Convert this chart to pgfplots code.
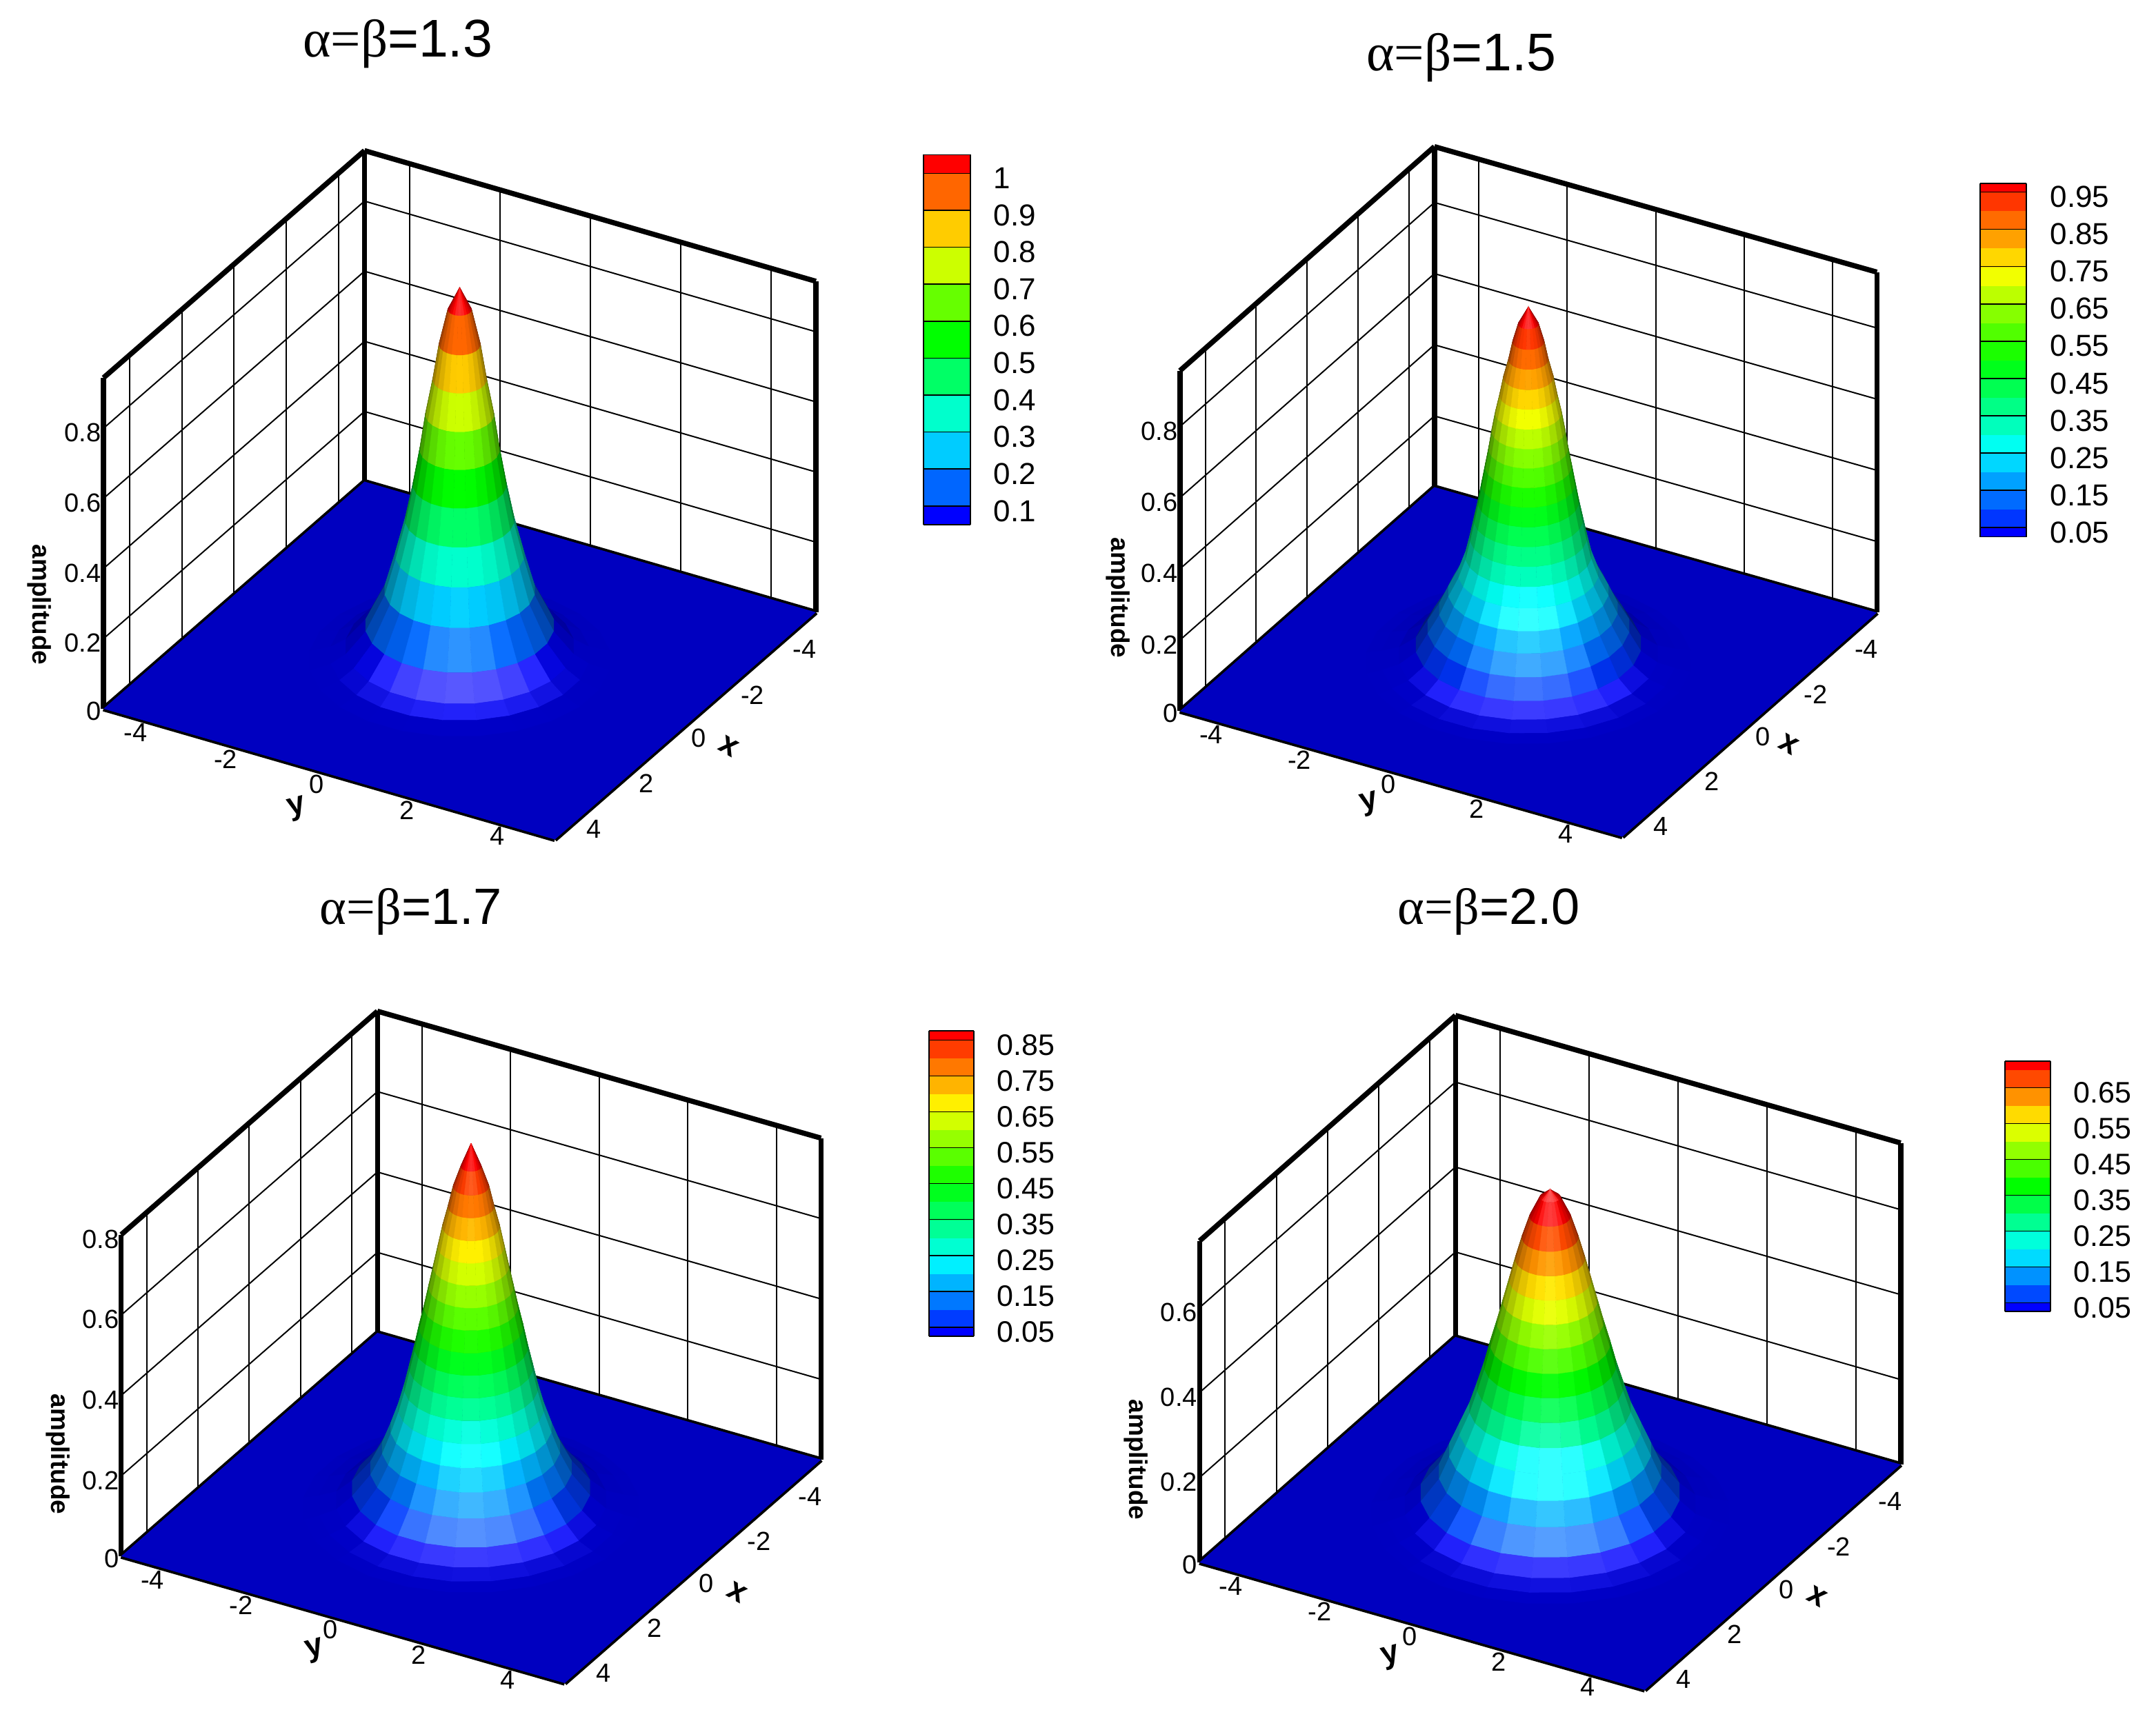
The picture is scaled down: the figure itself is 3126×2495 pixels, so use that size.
\documentclass[border=0pt]{standalone}
\usepackage{fontspec}
\usepackage{pgfplots}
\usepackage{pgfplotstable}
\pgfplotsset{compat=1.18}
\setmainfont{Liberation Sans}
\newfontfamily\symf{Liberation Serif}

% radial profiles: r, amplitude z, colour band j of the
% face outside this ring, slope m of that face, s = edge of the angular sector
\pgfplotstableread[row sep=\\]{
r z j m s\\
0 1.064 10 2.2 0\\0 1.064 10 2.2 1\\
0.23 1.0 9 4.7 0\\0.23 1.0 9 4.7 1\\
0.40 0.9 8 6.7 0\\0.40 0.9 8 6.7 1\\
0.52 0.8 7 5.7 0\\0.52 0.8 7 5.7 1\\
0.66 0.7 6 7.3 0\\0.66 0.7 6 7.3 1\\
0.77 0.6 5 6.2 0\\0.77 0.6 5 6.2 1\\
0.90 0.5 4 5.3 0\\0.90 0.5 4 5.3 1\\
1.05 0.4 3 4.2 0\\1.05 0.4 3 4.2 1\\
1.24 0.3 2 3.8 0\\1.24 0.3 2 3.8 1\\
1.45 0.2 1 2.2 0\\1.45 0.2 1 2.2 1\\
1.82 0.1 0 0.7 0\\1.82 0.1 0 0.7 1\\
2.2 0.04 0 0.2 0\\2.2 0.04 0 0.2 1\\
2.5 0.015 0 0.05 0\\2.5 0.015 0 0.05 1\\
2.9 0 0 0 0\\2.9 0 0 0 1\\
}\profA
\pgfplotstableread[row sep=\\]{
r z j m s\\
0 0.998 19 1.9 0\\0 0.998 19 1.9 1\\
0.20 0.95 18 3.6 0\\0.20 0.95 18 3.6 1\\
0.31 0.90 17 5 0\\0.31 0.90 17 5 1\\
0.39 0.85 16 4 0\\0.39 0.85 16 4 1\\
0.49 0.80 15 5.3 0\\0.49 0.80 15 5.3 1\\
0.565 0.75 14 4.7 0\\0.565 0.75 14 4.7 1\\
0.65 0.70 13 5.7 0\\0.65 0.70 13 5.7 1\\
0.72 0.65 12 6.7 0\\0.72 0.65 12 6.7 1\\
0.78 0.60 11 5.7 0\\0.78 0.60 11 5.7 1\\
0.85 0.55 10 5.7 0\\0.85 0.55 10 5.7 1\\
0.92 0.50 9 5.7 0\\0.92 0.50 9 5.7 1\\
0.99 0.45 8 5 0\\0.99 0.45 8 5 1\\
1.07 0.40 7 5 0\\1.07 0.40 7 5 1\\
1.15 0.35 6 4.4 0\\1.15 0.35 6 4.4 1\\
1.24 0.30 5 2.9 0\\1.24 0.30 5 2.9 1\\
1.38 0.25 4 2 0\\1.38 0.25 4 2 1\\
1.58 0.20 3 2.2 0\\1.58 0.20 3 2.2 1\\
1.76 0.15 2 1.7 0\\1.76 0.15 2 1.7 1\\
1.99 0.10 1 1.7 0\\1.99 0.10 1 1.7 1\\
2.22 0.05 0 0.35 0\\2.22 0.05 0 0.35 1\\
2.55 0.02 0 0.12 0\\2.55 0.02 0 0.12 1\\
2.9 0.007 0 0.05 0\\2.9 0.007 0 0.05 1\\
3.2 0 0 0 0\\3.2 0 0 0 1\\
}\profB
\pgfplotstableread[row sep=\\]{
r z j m s\\
0 0.907 17 2.3 0\\0 0.907 17 2.3 1\\
0.20 0.85 16 2.7 0\\0.20 0.85 16 2.7 1\\
0.35 0.80 15 4 0\\0.35 0.80 15 4 1\\
0.45 0.75 14 3.6 0\\0.45 0.75 14 3.6 1\\
0.56 0.70 13 4.4 0\\0.56 0.70 13 4.4 1\\
0.65 0.65 12 4.4 0\\0.65 0.65 12 4.4 1\\
0.74 0.60 11 4.4 0\\0.74 0.60 11 4.4 1\\
0.83 0.55 10 4.4 0\\0.83 0.55 10 4.4 1\\
0.92 0.50 9 4 0\\0.92 0.50 9 4 1\\
1.02 0.45 8 4.4 0\\1.02 0.45 8 4.4 1\\
1.11 0.40 7 4 0\\1.11 0.40 7 4 1\\
1.21 0.35 6 4 0\\1.21 0.35 6 4 1\\
1.31 0.30 5 3.3 0\\1.31 0.30 5 3.3 1\\
1.43 0.25 4 2.7 0\\1.43 0.25 4 2.7 1\\
1.58 0.20 3 2.4 0\\1.58 0.20 3 2.4 1\\
1.75 0.15 2 1.7 0\\1.75 0.15 2 1.7 1\\
1.98 0.10 1 1.1 0\\1.98 0.10 1 1.1 1\\
2.34 0.05 0 0.35 0\\2.34 0.05 0 0.35 1\\
2.65 0.02 0 0.12 0\\2.65 0.02 0 0.12 1\\
3.0 0.007 0 0.05 0\\3.0 0.007 0 0.05 1\\
3.3 0 0 0 0\\3.3 0 0 0 1\\
}\profC
\pgfplotstableread[row sep=\\]{
r z j m s\\
0 0.763 14 0.7 0\\0 0.763 14 0.7 1\\
0.20 0.745 14 1.8 0\\0.20 0.745 14 1.8 1\\
0.40 0.70 13 2.7 0\\0.40 0.70 13 2.7 1\\
0.55 0.65 12 3.1 0\\0.55 0.65 12 3.1 1\\
0.68 0.60 11 3.3 0\\0.68 0.60 11 3.3 1\\
0.80 0.55 10 3.3 0\\0.80 0.55 10 3.3 1\\
0.92 0.50 9 3.3 0\\0.92 0.50 9 3.3 1\\
1.04 0.45 8 3.1 0\\1.04 0.45 8 3.1 1\\
1.17 0.40 7 3.3 0\\1.17 0.40 7 3.3 1\\
1.29 0.35 6 2.9 0\\1.29 0.35 6 2.9 1\\
1.43 0.30 5 2.7 0\\1.43 0.30 5 2.7 1\\
1.58 0.25 4 2 0\\1.58 0.25 4 2 1\\
1.78 0.20 3 2 0\\1.78 0.20 3 2 1\\
1.98 0.15 2 2 0\\1.98 0.15 2 2 1\\
2.18 0.10 1 1.1 0\\2.18 0.10 1 1.1 1\\
2.54 0.05 0 0.35 0\\2.54 0.05 0 0.35 1\\
2.85 0.02 0 0.12 0\\2.85 0.02 0 0.12 1\\
3.2 0.007 0 0.05 0\\3.2 0.007 0 0.05 1\\
3.5 0 0 0 0\\3.5 0 0 0 1\\
}\profD

% colour bars: x, lower edge y of the band, band j
\pgfplotstableread[row sep=\\]{
x y j\\
0 0.05 0\\1 0.05 0\\0 0.1 1\\1 0.1 1\\0 0.2 2\\1 0.2 2\\0 0.3 3\\1 0.3 3\\
0 0.4 4\\1 0.4 4\\0 0.5 5\\1 0.5 5\\0 0.6 6\\1 0.6 6\\0 0.7 7\\1 0.7 7\\
0 0.8 8\\1 0.8 8\\0 0.9 9\\1 0.9 9\\0 1.0 10\\1 1.0 10\\0 1.05 10\\1 1.05 10\\
}\barA
\pgfplotstableread[row sep=\\]{
x y j\\
0 0.025 0\\1 0.025 0\\0 0.05 1\\1 0.05 1\\0 0.10 2\\1 0.10 2\\0 0.15 3\\1 0.15 3\\
0 0.20 4\\1 0.20 4\\0 0.25 5\\1 0.25 5\\0 0.30 6\\1 0.30 6\\0 0.35 7\\1 0.35 7\\
0 0.40 8\\1 0.40 8\\0 0.45 9\\1 0.45 9\\0 0.50 10\\1 0.50 10\\0 0.55 11\\1 0.55 11\\
0 0.60 12\\1 0.60 12\\0 0.65 13\\1 0.65 13\\0 0.70 14\\1 0.70 14\\0 0.75 15\\1 0.75 15\\
0 0.80 16\\1 0.80 16\\0 0.85 17\\1 0.85 17\\0 0.90 18\\1 0.90 18\\0 0.95 19\\1 0.95 19\\
0 0.974 19\\1 0.974 19\\
}\barB
\pgfplotstableread[row sep=\\]{
x y j\\
0 0.025 0\\1 0.025 0\\0 0.05 1\\1 0.05 1\\0 0.10 2\\1 0.10 2\\0 0.15 3\\1 0.15 3\\
0 0.20 4\\1 0.20 4\\0 0.25 5\\1 0.25 5\\0 0.30 6\\1 0.30 6\\0 0.35 7\\1 0.35 7\\
0 0.40 8\\1 0.40 8\\0 0.45 9\\1 0.45 9\\0 0.50 10\\1 0.50 10\\0 0.55 11\\1 0.55 11\\
0 0.60 12\\1 0.60 12\\0 0.65 13\\1 0.65 13\\0 0.70 14\\1 0.70 14\\0 0.75 15\\1 0.75 15\\
0 0.80 16\\1 0.80 16\\0 0.85 17\\1 0.85 17\\0 0.8755 17\\1 0.8755 17\\
}\barC
\pgfplotstableread[row sep=\\]{
x y j\\
0 0.025 0\\1 0.025 0\\0 0.05 1\\1 0.05 1\\0 0.10 2\\1 0.10 2\\0 0.15 3\\1 0.15 3\\
0 0.20 4\\1 0.20 4\\0 0.25 5\\1 0.25 5\\0 0.30 6\\1 0.30 6\\0 0.35 7\\1 0.35 7\\
0 0.40 8\\1 0.40 8\\0 0.45 9\\1 0.45 9\\0 0.50 10\\1 0.50 10\\0 0.55 11\\1 0.55 11\\
0 0.60 12\\1 0.60 12\\0 0.65 13\\1 0.65 13\\0 0.70 14\\1 0.70 14\\0 0.723 14\\1 0.723 14\\
}\barD

\definecolor{floorblue}{RGB}{0,0,192}

% colour helpers, one argument each because the symbolic list splits on commas
\pgfmathdeclarefunction{clampo}{1}{\pgfmathparse{min(1,max(0,#1))}}
\pgfmathdeclarefunction{pos}{1}{\pgfmathparse{max(0,#1)}}
\pgfmathdeclarefunction{tent}{1}{\pgfmathparse{min(1,min(4*(#1),4-4*(#1)))}}
\newcommand{\Dv}[1]{clampo(0.45+0.6*pos((\thisrow{m}*0.866*cos(#1-30)+0.5)/sqrt(1+\thisrow{m}*\thisrow{m})))}
\newcommand{\Sp}[1]{(0.35*pos(((\thisrow{m}*0.643*cos(#1-30)+0.766)/sqrt(1+\thisrow{m}*\thisrow{m})-0.8)/0.2))}

% one peak, sectors of 15 degrees, back to front
\newcommand{\hump}[2]{%
  \pgfplotsinvokeforeach{202.5,187.5,217.5,172.5,232.5,157.5,247.5,142.5,262.5,127.5,277.5,112.5,292.5,97.5,307.5,82.5,322.5,67.5,337.5,52.5,352.5,37.5,7.5,22.5}{%
    \addplot3[surf,shader=flat corner,z buffer=sort,mesh/cols=2,
      mesh/color input=explicit mathparse,
      point meta={symbolic={
        0+clampo(clampo(4*\thisrow{j}/#2-2)*\Dv{(##1+7.5)}+\Sp{(##1+7.5)}),
        0+clampo(tent(\thisrow{j}/#2)*\Dv{(##1+7.5)}+\Sp{(##1+7.5)}),
        0+clampo(clampo(2-4*\thisrow{j}/#2)*\Dv{(##1+7.5)}+\Sp{(##1+7.5)})}}]
      table[x expr=\thisrow{r}*cos(##1+\thisrow{s}*15),y expr=\thisrow{r}*sin(##1+\thisrow{s}*15),z=z]{#1};
  }%
}
\newcommand{\cbar}[2]{%
  \addplot3[surf,shader=flat corner,mesh/cols=2,
    mesh/color input=explicit mathparse,
    point meta={symbolic={
      0+clampo(4*\thisrow{j}/#2-2),
      0+tent(\thisrow{j}/#2),
      0+clampo(2-4*\thisrow{j}/#2)}}]
    table[x=x,y=y,z expr=0]{#1};
}

\pgfplotsset{
  peak/.style={
    clip=false,anchor=origin,
    xmin=-5,xmax=5,ymin=-5,ymax=5,zmin=0,
    xtick={-4,-2,0,2,4},ytick={-4,-2,0,2,4},
    xticklabels={-4,-2,0,2,4},yticklabels={-4,-2,0,2,4},
    grid=major,grid style={black,line width=2pt},
    axis line style={line width=7.5pt},
    tick style={draw=none},major tick length=0pt,
    tick label style={font=\fontsize{38}{43}\selectfont,text=black},
    xticklabel style={xshift=6pt},
    yticklabel style={xshift=-10pt,yshift=4pt},
  },
  cb/.style={
    scale only axis,anchor=south west,view={0}{90},axis on top,
    xmin=0,xmax=1,zmin=-1,zmax=1,xtick=\empty,ztick=\empty,
    yticklabel pos=right,
    ymajorgrids,grid style={black,line width=1.5pt},
    axis line style={line width=1.8pt},
    tick style={draw=none},major tick length=0pt,
    yticklabel style={anchor=west,inner sep=0pt,xshift=34pt,yshift=-7pt,font=\fontsize{44}{49}\selectfont},
  },
}

\begin{document}
\begin{tikzpicture}[x=1pt,y=1pt]
\path[use as bounding box] (0,0) rectangle (3126,2495);

\begin{axis}[peak,at={(666.5pt,1537pt)},x={(-37.85pt,-32.95pt)},y={(65.45pt,-18.95pt)},z={(0pt,508.5pt)},zmax=0.944,
  ztick={0,0.2,0.4,0.6,0.8},zticklabels={0,0.2,0.4,0.6,0.8}]
  \addplot3[fill=floorblue,draw=none] coordinates {(-5,-5,0) (-5,5,0) (5,5,0) (5,-5,0) (-5,-5,0)};
  \hump{\profA}{10}
\end{axis}
\begin{axis}[peak,at={(2216pt,1535pt)},x={(-36.9pt,-32.5pt)},y={(64.15pt,-18.2pt)},z={(0pt,516pt)},zmax=0.957,
  ztick={0,0.2,0.4,0.6,0.8},zticklabels={0,0.2,0.4,0.6,0.8}]
  \addplot3[fill=floorblue,draw=none] coordinates {(-5,-5,0) (-5,5,0) (5,5,0) (5,-5,0) (-5,-5,0)};
  \hump{\profB}{19}
\end{axis}
\begin{axis}[peak,at={(683pt,308pt)},x={(-37.15pt,-32.4pt)},y={(64.3pt,-18.4pt)},z={(0pt,583pt)},zmax=0.8,
  ztick={0,0.2,0.4,0.6,0.8},zticklabels={0,0.2,0.4,0.6,0.8}]
  \addplot3[fill=floorblue,draw=none] coordinates {(-5,-5,0) (-5,5,0) (5,5,0) (5,-5,0) (-5,-5,0)};
  \hump{\profC}{17}
\end{axis}
\begin{axis}[peak,at={(2247.5pt,300pt)},x={(-37.1pt,-32.7pt)},y={(64.55pt,-18.5pt)},z={(0pt,616pt)},zmax=0.757,
  ztick={0,0.2,0.4,0.6},zticklabels={0,0.2,0.4,0.6}]
  \addplot3[fill=floorblue,draw=none] coordinates {(-5,-5,0) (-5,5,0) (5,5,0) (5,-5,0) (-5,-5,0)};
  \hump{\profD}{14}
\end{axis}

\begin{axis}[cb,at={(1339.3pt,1734.3pt)},width=67.4pt,height=536.2pt,ymin=0.05,ymax=1.05,
  ytick={0.1,0.2,0.3,0.4,0.5,0.6,0.7,0.8,0.9,1},yticklabels={0.1,0.2,0.3,0.4,0.5,0.6,0.7,0.8,0.9,1}]
  \cbar{\barA}{10}
\end{axis}
\begin{axis}[cb,at={(2870.7pt,1716.4pt)},width=67.6pt,height=512.9pt,ymin=0.025,ymax=0.974,
  ytick={0.05,0.15,0.25,0.35,0.45,0.55,0.65,0.75,0.85,0.95},yticklabels={0.05,0.15,0.25,0.35,0.45,0.55,0.65,0.75,0.85,0.95}]
  \cbar{\barB}{19}
\end{axis}
\begin{axis}[cb,at={(1346.7pt,557pt)},width=65pt,height=443pt,ymin=0.025,ymax=0.8755,
  ytick={0.05,0.15,0.25,0.35,0.45,0.55,0.65,0.75,0.85},yticklabels={0.05,0.15,0.25,0.35,0.45,0.55,0.65,0.75,0.85},
  yticklabel style={font=\fontsize{43}{48}\selectfont}]
  \cbar{\barC}{17}
\end{axis}
\begin{axis}[cb,at={(2907.3pt,592.7pt)},width=65.4pt,height=363pt,ymin=0.025,ymax=0.723,
  ytick={0.05,0.15,0.25,0.35,0.45,0.55,0.65},yticklabels={0.05,0.15,0.25,0.35,0.45,0.55,0.65},
  yticklabel style={font=\fontsize{43}{48}\selectfont}]
  \cbar{\barD}{14}
\end{axis}

\tikzset{ttl/.style={anchor=base,inner sep=0pt,font=\fontsize{77}{85}\selectfont},
  ttb/.style={anchor=base,inner sep=0pt,font=\fontsize{74}{82}\selectfont},
  amp/.style={rotate=-90,inner sep=0pt,font=\fontsize{37}{42}\selectfont\bfseries},
  ax/.style={inner sep=0pt,font=\fontsize{46}{52}\selectfont\bfseries}}
\node[ttl] at (576.7,2412) {{\symf α=β}=1.3};
\node[ttl] at (2119,2392) {{\symf α=β}=1.5};
\node[ttb] at (596,1154) {{\symf α=β}=1.7};
\node[ttb] at (2159,1154) {{\symf α=β}=2.0};
\node[amp] at (57,1618) {amplitude};
\node[amp] at (1621,1628) {amplitude};
\node[amp] at (84,386) {amplitude};
\node[amp] at (1647,378) {amplitude};
\node[ax,rotate=-30] at (1057,1413) {x};
\node[ax,rotate=-30] at (2594,1416) {x};
\node[ax,rotate=-30] at (1069,186) {x};
\node[ax,rotate=-30] at (2635,180) {x};
\node[ax,rotate=15] at (431,1322) {y};
\node[ax,rotate=15] at (1986,1329) {y};
\node[ax,rotate=15] at (457,101) {y};
\node[ax,rotate=15] at (2017,91) {y};
\end{tikzpicture}
\end{document}
